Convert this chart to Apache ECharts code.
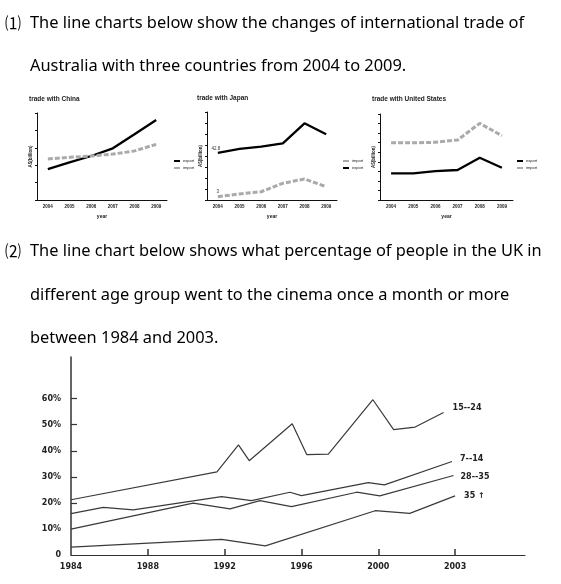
<!DOCTYPE html>
<html><head><meta charset="utf-8">
<script src="https://cdn.jsdelivr.net/npm/echarts@6/dist/echarts.min.js"></script>
<style>html,body{margin:0;padding:0;background:#fff}#c{width:561px;height:584px}</style>
</head><body><div id="c"></div>
<script>
// ---------- data ----------
const years = ['2004', '2005', '2006', '2007', '2008', '2009'];
const chinaExport = [17.8, 21.6, 25.3, 29.7, 37.8, 46.0];
const chinaImport = [23.6, 24.5, 25.3, 26.4, 28.2, 32.0];
const japanExport = [42.8, 46.4, 48.5, 51.5, 69.7, 59.7];
const japanImport = [3, 5.5, 7.5, 15.2, 19.1, 12.1];
const usExport = [27.9, 27.9, 30.3, 31.4, 44.2, 33.8];
const usImport = [59.9, 59.9, 60.4, 62.8, 80.2, 67.3];

const ukTickLabels = ['1984', '1988', '1992', '1996', '2000', '2003'];
// x positions measured in tick units along the drawn axis (0 = 1984 tick, 5 = 2003 tick)
const age15to24X = [0, 1.90, 2.18, 2.32, 2.88, 3.07, 3.35, 3.93, 4.20, 4.48, 4.85];
const age15to24 = [21.2, 31.9, 42.3, 36.2, 50.4, 38.5, 38.7, 59.6, 48.1, 49.1, 54.7];
const age7to14X = [0, 0.42, 0.81, 1.96, 2.35, 2.85, 3.00, 3.87, 4.08, 4.96];
const age7to14 = [15.9, 18.3, 17.3, 22.4, 20.9, 24.1, 22.8, 27.8, 26.9, 35.9];
const age28to35X = [0, 1.59, 2.07, 2.46, 2.87, 3.72, 4.02, 4.98];
const age28to35 = [9.9, 19.9, 17.7, 20.9, 18.6, 24.1, 22.7, 30.5];
const age35upX = [0, 1.96, 2.53, 3.96, 4.41, 5.00];
const age35up = [3.0, 6.0, 3.5, 17.0, 16.0, 22.7];

const para1 = ['The line charts below show the changes of international trade of',
               'Australia with three countries from 2004 to 2009.'];
const para2 = ['The line chart below shows what percentage of people in the UK in',
               'different age group went to the cinema once a month or more',
               'between 1984 and 2003.'];

// ---------- chart ----------
const chart = echarts.init(document.getElementById('c'), null, {renderer: 'canvas'});
const TXT = '"Noto Sans", sans-serif';
const NARROW = '"Liberation Sans Narrow", "Liberation Sans", sans-serif';
const smallGrids = [
  {left: 37, top: 113, width: 130, height: 87},
  {left: 207, top: 112, width: 130, height: 88},
  {left: 380, top: 114, width: 133, height: 86}
];
const smallMax = [50, 80, 90];

function smallX(i) {
  return {
    type: 'category', gridIndex: i, data: years, boundaryGap: true,
    axisLine: {lineStyle: {color: '#111', width: 1}},
    axisTick: {length: 2, lineStyle: {color: '#111'}},
    axisLabel: {fontSize: 4.5, fontWeight: 'bold', fontFamily: NARROW, color: '#222', margin: 4, interval: 0},
    name: 'year', nameLocation: 'middle', nameGap: 14,
    nameTextStyle: {fontSize: 5, fontWeight: 'bold', fontFamily: NARROW, color: '#222'}
  };
}
function smallY(i) {
  return {
    type: 'value', gridIndex: i, min: 0, max: smallMax[i], interval: 10,
    axisLine: {show: true, lineStyle: {color: '#111', width: 1}},
    axisTick: {show: true, length: 2, lineStyle: {color: '#111'}},
    axisLabel: {show: false}, splitLine: {show: false},
    name: 'A$(billion)', nameLocation: 'middle', nameRotate: 90, nameGap: 4,
    nameTextStyle: {fontSize: 4.5, fontWeight: 'bold', fontFamily: NARROW, color: '#222'}
  };
}
function labelled(vals, firstLabel, off) {
  return vals.map((v, k) => (k === 0 && firstLabel)
    ? {value: v, label: {show: true, position: 'top', distance: 2, fontSize: 4.5, color: '#333', offset: off}}
    : v);
}
function expSeries(i, vals, firstLabel) {
  return {
    type: 'line', name: 'export', xAxisIndex: i, yAxisIndex: i,
    symbol: 'circle', symbolSize: 0, showSymbol: true,
    color: '#000', lineStyle: {color: '#000', width: 2.3},
    data: labelled(vals, firstLabel, [-2, 0])
  };
}
function impSeries(i, vals, firstLabel) {
  return {
    type: 'line', name: 'import', xAxisIndex: i, yAxisIndex: i,
    symbol: 'circle', symbolSize: 0, showSymbol: true,
    color: '#aaa', lineStyle: {color: '#aaa', width: 3, type: [5, 2]},
    data: labelled(vals, firstLabel, [0, 0])
  };
}
function smallLegend(left, top, names) {
  return {
    left: left, top: top, orient: 'vertical', icon: 'rect', itemWidth: 6, itemHeight: 2, itemGap: 3,
    padding: 0, data: names, selectedMode: false,
    textStyle: {fontSize: 4, fontFamily: NARROW, color: '#222', padding: [0, 0, 0, -2]}
  };
}

const ukLine = {color: '#3a3a3a', width: 1.2};
function ukSeries(name, xs, ys, offset) {
  return {
    type: 'line', name: name, xAxisIndex: 3, yAxisIndex: 3, symbol: 'none', color: '#3a3a3a',
    lineStyle: ukLine, data: xs.map((x, k) => [x, ys[k]]),
    endLabel: {show: true, formatter: name, fontSize: 8, fontWeight: 'bold', fontFamily: '"DejaVu Sans", sans-serif', color: '#222', offset: offset, distance: 5}
  };
}

const graphics = [];
function addText(txt, x, y, font) {
  graphics.push({type: 'text', x: x, y: y, style: {text: txt, fill: '#000', font: font, verticalAlign: 'middle', align: 'left'}});
}
const PF = '16.4px ' + TXT;
addText('⑴', 5, 23, '16px "Noto Sans CJK SC"');
addText(para1[0], 30, 23, PF);
addText(para1[1], 30, 66, PF);
addText('⑵', 5, 251, '16px "Noto Sans CJK SC"');
addText(para2[0], 30, 251, PF);
addText(para2[1], 30, 295, PF);
addText(para2[2], 30, 338, PF);

const option = {
  backgroundColor: '#fff',
  animation: false,
  title: [
    {text: 'trade with China', left: 29, top: 96, padding: 0, textStyle: {fontSize: 6.5, fontWeight: 'bold', fontFamily: NARROW, color: '#222'}},
    {text: 'trade with Japan', left: 197, top: 95, padding: 0, textStyle: {fontSize: 6.5, fontWeight: 'bold', fontFamily: NARROW, color: '#222'}},
    {text: 'trade with United States', left: 372, top: 96, padding: 0, textStyle: {fontSize: 6.5, fontWeight: 'bold', fontFamily: NARROW, color: '#222'}}
  ],
  legend: [
    smallLegend(174, 159, ['export', 'import']),
    smallLegend(343, 159, ['import', 'export']),
    smallLegend(517, 159, ['export', 'import'])
  ],
  grid: smallGrids.concat([{left: 71, top: 357, width: 454, height: 198}]),
  xAxis: [smallX(0), smallX(1), smallX(2), {
    type: 'value', gridIndex: 3, min: 0, max: 5.91,
    axisLine: {lineStyle: {color: '#333', width: 1.2}},
    axisTick: {show: true, inside: true, length: 6, customValues: [1, 2, 3, 4, 5], lineStyle: {color: '#333', width: 1.5}},
    axisLabel: {customValues: [0, 1, 2, 3, 4, 5], formatter: v => (Number.isInteger(v) ? ukTickLabels[v] : ''),
      fontSize: 8, fontWeight: 'bold', fontFamily: '"DejaVu Sans", sans-serif', color: '#222', margin: 8},
    splitLine: {show: false}
  }],
  yAxis: [smallY(0), smallY(1), smallY(2), {
    type: 'value', gridIndex: 3, min: 0, max: 76, interval: 10,
    axisLine: {show: true, lineStyle: {color: '#333', width: 1.5}},
    axisTick: {show: true, inside: true, length: 6, customValues: [20, 30, 40, 50, 60], lineStyle: {color: '#333', width: 1.2}},
    axisLabel: {customValues: [0, 10, 20, 30, 40, 50, 60], formatter: v => (v === 0 ? '0' : v + '%'),
      fontSize: 8, fontWeight: 'bold', fontFamily: '"DejaVu Sans", sans-serif', color: '#222', margin: 10},
    splitLine: {show: false}
  }],
  series: [
    expSeries(0, chinaExport, false), impSeries(0, chinaImport, false),
    expSeries(1, japanExport, true), impSeries(1, japanImport, true),
    expSeries(2, usExport, false), impSeries(2, usImport, false),
    ukSeries('15--24', age15to24X, age15to24, [4, -5]),
    ukSeries('7--14', age7to14X, age7to14, [3, -3]),
    ukSeries('28--35', age28to35X, age28to35, [2, 1]),
    ukSeries('35 ↑', age35upX, age35up, [4, 0])
  ],
  graphic: graphics
};
chart.setOption(option);
</script></body></html>
